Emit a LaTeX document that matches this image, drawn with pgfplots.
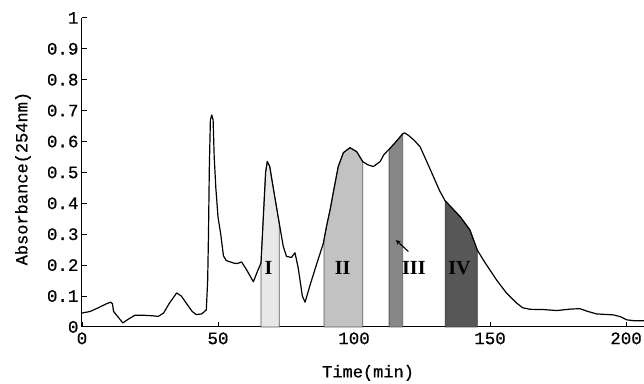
\documentclass[border=0pt]{standalone}
\usepackage{fontspec}
\setmainfont[FakeBold=0.7]{Liberation Mono}
\newfontfamily\serifnum{Liberation Serif}
\usepackage{pgfplots}
\pgfplotsset{compat=1.18}
\begin{document}
\begin{tikzpicture}
\begin{axis}[
  scale only axis, width=562bp, height=309bp,
  xmin=0, xmax=206.6, ymin=0, ymax=1,
  axis x line=bottom, axis y line=left,
  axis line style={-, line width=1pt},
  xtick={0,50,100,150,200},
  ytick={0,0.1,...,1.0},
  tick align=inside, major tick length=5bp,
  tick style={line width=0.9pt, black},
  /pgf/number format/assume math mode=true,
  /pgf/number format/fixed, /pgf/number format/precision=1,
  ticklabel style={font=\fontsize{17.5bp}{19bp}\selectfont},
  yticklabel style={xshift=0bp},
  xticklabel style={yshift=-2bp},
  xlabel={Time(min)}, ylabel={Absorbance(254nm)},
  label style={font=\fontsize{17bp}{19bp}\selectfont},
  xlabel style={at={(rel axis cs:0.509,-0.149)}, anchor=center},
  ylabel style={at={(rel axis cs:-0.105,0.48)}, anchor=center},
  clip=false,
]
% shaded fractions
\addplot[fill=black!9, draw=black!65, line width=0.8pt] coordinates {(65.8,0) (65.8,0.207) (66.8,0.38) (67.5,0.5) (68.1,0.535) (69,0.52) (70.5,0.44) (72.5,0.336) (72.5,0)} -- cycle;
\addplot[fill=black!24, draw=black!65, line width=0.8pt] coordinates {(89,0) (89,0.285) (90,0.33) (91.2,0.379) (92.7,0.45) (94.2,0.519) (96.1,0.564) (98.5,0.58) (101,0.567) (103.2,0.535) (103.2,0)} -- cycle;
\addplot[fill=black!47, draw=black!65, line width=0.8pt] coordinates {(112.9,0) (112.9,0.575) (115,0.595) (117.9,0.625) (117.9,0)} -- cycle;
\addplot[fill=black!66, draw=black!75, line width=0.8pt] coordinates {(133.5,0) (133.5,0.408) (136,0.385) (139,0.357) (142.6,0.314) (145.3,0.249) (145.3,0)} -- cycle;
% chromatogram
\addplot[black, line width=1.2pt, line join=round, mark=none] coordinates {
(0,0.045) (3,0.05) (6,0.062) (9,0.075) (10.5,0.08) (11.2,0.075) (11.6,0.05) (13,0.035) (15,0.013) (17,0.025) (19.5,0.038) (22,0.038) (26,0.036) (28,0.034) (30,0.045) (32,0.075) (34.8,0.11) (36.5,0.1) (38.5,0.075) (40.5,0.05) (42,0.04) (44,0.042) (45.7,0.055) (46.2,0.15) (46.5,0.3) (46.8,0.51) (47.2,0.67) (47.7,0.686) (48.2,0.67) (48.6,0.55) (49.2,0.45) (50,0.356) (51,0.3) (52,0.23) (53,0.215) (55.6,0.207) (57,0.205) (58.7,0.21) (60.5,0.185) (63,0.146) (64.5,0.18) (65.8,0.207) (66.8,0.38) (67.5,0.5) (68.1,0.535) (69,0.52) (70.5,0.44) (72.5,0.336) (74,0.26) (75.2,0.228) (77,0.225) (78.3,0.24) (79.5,0.19) (81,0.1) (82,0.08) (84,0.14) (86.5,0.21) (88.7,0.27) (90,0.33) (91.2,0.379) (92.7,0.45) (94.2,0.519) (96.1,0.564) (98.5,0.58) (101,0.567) (103.2,0.535) (105,0.525) (107.1,0.519) (109.6,0.535) (111,0.558) (112.9,0.575) (115,0.595) (117.9,0.625) (118.6,0.628) (120,0.62) (122,0.605) (124.3,0.583) (127,0.53) (129.2,0.486) (131.5,0.44) (133.5,0.408) (136,0.385) (139,0.357) (142.6,0.314) (145.3,0.249) (148,0.21) (152.4,0.152) (156,0.11) (159.8,0.077) (162,0.062) (164.7,0.057) (170,0.056) (174.5,0.053) (180,0.058) (183,0.059) (186,0.05) (189.2,0.042) (195.3,0.039) (198,0.033) (200.2,0.023) (203,0.02) (206.6,0.02)};
% labels
\node[font=\serifnum\bfseries\fontsize{20bp}{22bp}\selectfont] at (axis cs:68.6,0.19) {I};
\node[font=\serifnum\bfseries\fontsize{20bp}{22bp}\selectfont] at (axis cs:95.8,0.19) {II};
\node[font=\serifnum\bfseries\fontsize{20bp}{22bp}\selectfont] at (axis cs:122,0.19) {III};
\node[font=\serifnum\bfseries\fontsize{20bp}{22bp}\selectfont] at (axis cs:138.8,0.19) {IV};
\draw[-stealth, line width=1.1pt] (axis cs:120,0.244) -- (axis cs:115.4,0.281);
\coordinate (bbsw) at (rel axis cs:-0.1459,-0.1845);
\coordinate (bbne) at (rel axis cs:1,1.058);
\end{axis}
\pgfresetboundingbox
\path[use as bounding box] (bbsw) rectangle (bbne);
\end{tikzpicture}
\end{document}
